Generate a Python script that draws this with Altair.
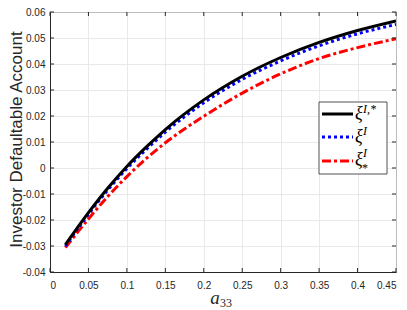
import altair as alt
import pandas as pd

a33 = [0.02, 0.05, 0.075, 0.10, 0.125, 0.15, 0.20, 0.25, 0.30, 0.35, 0.40, 0.45]
xi_I_star = [-0.0295, -0.0172, -0.0078, 0.0006, 0.0080, 0.0148, 0.0262, 0.0353, 0.0425, 0.0483, 0.0529, 0.0566]
xi_I = [-0.0300, -0.0178, -0.0085, -0.0002, 0.0071, 0.0138, 0.0251, 0.0341, 0.0412, 0.0470, 0.0516, 0.0552]
xi_star_I = [-0.0306, -0.0196, -0.0110, -0.0033, 0.0036, 0.0097, 0.0199, 0.0288, 0.0362, 0.0421, 0.0463, 0.0497]

x_ticks = [0, 0.05, 0.1, 0.15, 0.2, 0.25, 0.3, 0.35, 0.4, 0.45]
y_ticks = [-0.04, -0.03, -0.02, -0.01, 0, 0.01, 0.02, 0.03, 0.04, 0.05, 0.06]

W, H = 346, 260
AX = "#262626"

df = pd.DataFrame({"a": a33, "s1": xi_I_star, "s2": xi_I, "s3": xi_star_I})

xs = alt.Scale(domain=[0, 0.45], nice=False, zero=False)
ys = alt.Scale(domain=[-0.04, 0.06], nice=False, zero=False)

lab = "datum.value < 0 ? '-' + format(-datum.value, '~g') : format(datum.value, '~g')"

xaxis = alt.Axis(values=x_ticks, labelExpr=lab, ticks=False, grid=True, gridColor="#e3e3e3",
                 gridWidth=0.8, domainColor=AX, domainWidth=1, labelFont="Liberation Sans",
                 labelFontSize=10, labelColor=AX, labelPadding=8, labelOverlap=False,
                 title=None)
yaxis = alt.Axis(values=y_ticks, labelExpr=lab, ticks=False, grid=True, gridColor="#e3e3e3",
                 gridWidth=0.8, domainColor=AX, domainWidth=1, labelFont="Liberation Sans",
                 labelFontSize=10, labelColor=AX, labelPadding=5, labelOverlap=False,
                 title="Investor Defaultable Account", titleFont="Liberation Sans",
                 titleFontSize=17, titleFontWeight="normal", titleColor=AX,
                 titleX=-29, titleY=127, titleAngle=270, titleAlign="center",
                 titleBaseline="alphabetic")

base = alt.Chart(df)


def line(col, color, dash):
    kw = dict(color=color, strokeWidth=3, interpolate="monotone", clip=True, strokeCap="butt")
    if dash:
        kw["strokeDash"] = dash
    return base.mark_line(**kw).encode(
        x=alt.X("a:Q", scale=xs, axis=xaxis),
        y=alt.Y(f"{col}:Q", scale=ys, axis=yaxis),
    )


l3 = line("s3", "#ff0000", [9, 3, 3, 3])
l2 = line("s2", "#0000ff", [3, 3])
l1 = line("s1", "#000000", None)

xt = alt.Chart(pd.DataFrame({"t": x_ticks}))
yt = alt.Chart(pd.DataFrame({"t": y_ticks}))
tick_style = dict(color=AX, strokeWidth=1)
xb = xt.mark_rule(**tick_style).encode(x=alt.X("t:Q", scale=xs, axis=xaxis), y=alt.value(H), y2=alt.value(H - 4))
xtop = xt.mark_rule(**tick_style).encode(x=alt.X("t:Q", scale=xs, axis=xaxis), y=alt.value(0), y2=alt.value(4))
yl = yt.mark_rule(**tick_style).encode(y=alt.Y("t:Q", scale=ys, axis=yaxis), x=alt.value(0), x2=alt.value(4))
yr = yt.mark_rule(**tick_style).encode(y=alt.Y("t:Q", scale=ys, axis=yaxis), x=alt.value(W), x2=alt.value(W - 4))

one = alt.Chart(pd.DataFrame({"k": [0]}))

# x title a_33
xa = one.mark_text(text="a", font="Liberation Serif", fontStyle="italic", fontSize=19,
                   align="center", baseline="alphabetic", color=AX).encode(
    x=alt.value(165), y=alt.value(292))
x33 = one.mark_text(text="33", font="Liberation Serif", fontSize=12,
                    align="left", baseline="alphabetic", color=AX).encode(
    x=alt.value(170), y=alt.value(295))

# legend
box = one.mark_rect(fill="white", stroke=AX, strokeWidth=0.8).encode(
    x=alt.value(269), x2=alt.value(337), y=alt.value(90), y2=alt.value(162))
lg1 = one.mark_rule(color="#000000", strokeWidth=3).encode(
    x=alt.value(272), x2=alt.value(303), y=alt.value(102))
lg2 = one.mark_rule(color="#0000ff", strokeWidth=3, strokeDash=[3, 3]).encode(
    x=alt.value(272), x2=alt.value(303), y=alt.value(125))
lg3 = one.mark_rule(color="#ff0000", strokeWidth=3, strokeDash=[9, 3, 3, 3]).encode(
    x=alt.value(272), x2=alt.value(303), y=alt.value(149))


def txt(t, x, y, size, italic=True, align="left"):
    kw = dict(text=t, font="Liberation Serif", fontSize=size, align=align,
              baseline="alphabetic", color="#000000")
    if italic:
        kw["fontStyle"] = "italic"
    return one.mark_text(**kw).encode(x=alt.value(x), y=alt.value(y))


legend_txt = [
    txt("ξ", 305, 107, 18), txt("I,*", 313, 101, 12),
    txt("ξ", 305, 130, 18), txt("I", 313, 123, 12),
    txt("ξ", 305, 153, 18), txt("I", 313, 145, 12), txt("*", 312, 160, 12, italic=False),
]

chart = alt.layer(l3, l2, l1, xb, xtop, yl, yr, xa, x33, box, lg1, lg2, lg3, *legend_txt).properties(
    width=W, height=H,
    autosize=alt.AutoSizeParams(type="none"),
    padding={"left": 42, "top": 4, "right": 3, "bottom": 42},
).configure_view(stroke=AX, strokeWidth=1)

chart.save("out.html", embed_options={"renderer": "svg", "actions": False})
